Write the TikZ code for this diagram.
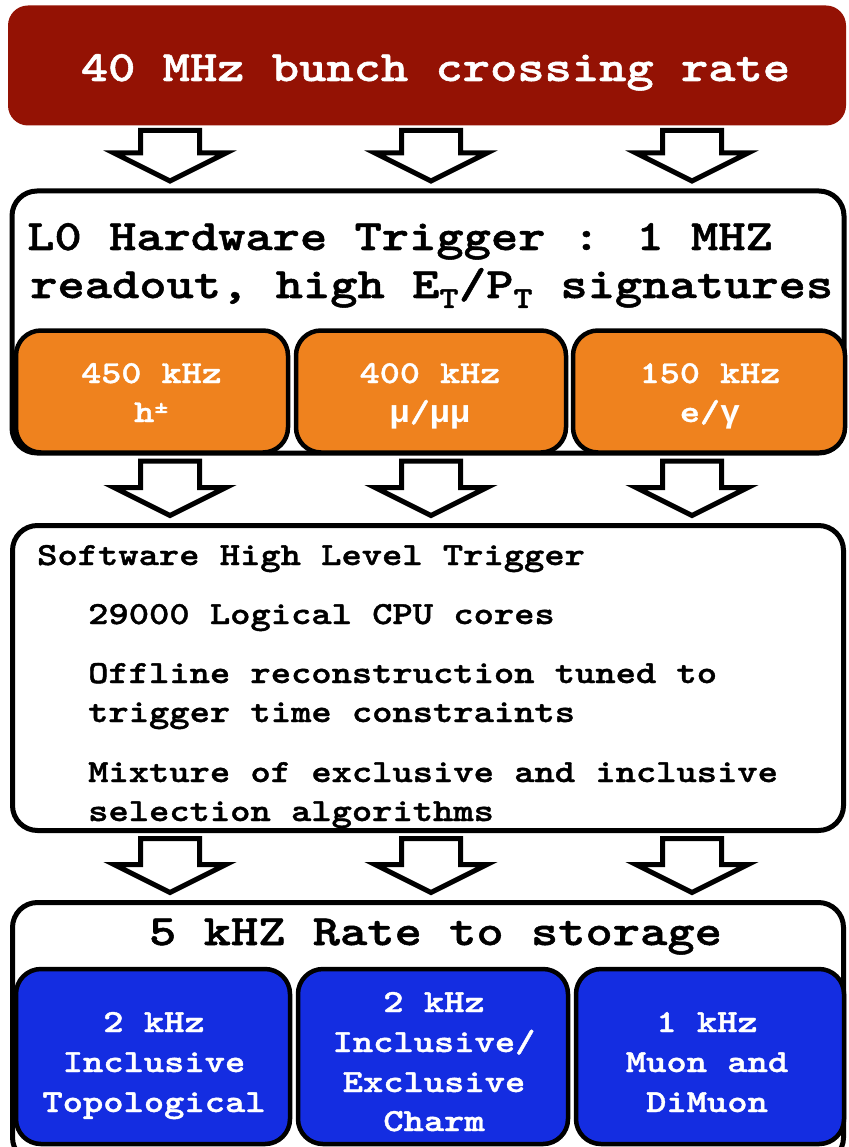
\documentclass[tikz,border=0pt]{standalone}
\usepackage{fontspec}
\usetikzlibrary{calc}
\newfontfamily\cour{lmmonolt10-bold.otf}[FakeStretch=1.2,FakeBold=1.2]
\newfontfamily\gmono{Liberation Mono}[FakeStretch=1.05]
\newcommand\bigfont{\cour\fontsize{43.3pt}{50pt}\selectfont}
\newcommand\midfont{\cour\fontsize{32.2pt}{40pt}\selectfont}
\newcommand\orfont{\cour\fontsize{31.9pt}{40pt}\selectfont}
\newcommand\gk[1]{{\gmono\bfseries\fontsize{32pt}{40pt}\selectfont #1}}
\definecolor{topred}{RGB}{148,18,4}
\definecolor{lzorange}{RGB}{239,130,30}
\definecolor{storeblue}{RGB}{20,45,225}
\tikzset{
  redbox/.style={fill=topred, draw=none, rounded corners=20pt, inner sep=0pt, outer sep=0pt},
  whitebox/.style={draw=black, fill=white, line width=5pt, rounded corners=25pt, inner sep=0pt, outer sep=0pt},
  orangebox/.style={draw=black, fill=lzorange, line width=4.5pt, rounded corners=25pt, inner sep=0pt, outer sep=0pt},
  bluebox/.style={draw=black, fill=storeblue, line width=4.5pt, rounded corners=25pt, inner sep=0pt, outer sep=0pt},
  bigtxt/.style={font=\bigfont, inner sep=0pt, text=black},
  midtxt/.style={font=\midfont, inner sep=0pt, text=black},
  wbig/.style={font=\bigfont, inner sep=0pt, text=white, anchor=base},
  wmid/.style={font=\midfont, inner sep=0pt, text=white, anchor=base},
  wor/.style={font=\orfont, inner sep=0pt, text=white, anchor=base},
  blockarr/.style={draw=black, fill=white, line width=5pt, line join=miter}
}
% #1 x position (px), #2 source node, #3 target node, #4 gap below source
\newcommand\blockarrow[4]{%
  \draw[blockarr] let \p1=(#2.south), \p2=(#3.north) in
    (#1*1pt-29.5pt,\y1-#4pt) -- (#1*1pt+29.5pt,\y1-#4pt) -- (#1*1pt+29.5pt,\y2+38pt)
    -- (#1*1pt+56pt,\y2+38pt) -- (#1*1pt,\y2+10pt) -- (#1*1pt-56pt,\y2+38pt)
    -- (#1*1pt-29.5pt,\y2+38pt) -- cycle;}
\begin{document}
\begin{tikzpicture}[x=1pt,y=-1pt]
\useasboundingbox (0,0) rectangle (848,1147);
\clip (0,0) rectangle (848,1147);
\fill[white] (0,0) rectangle (848,1147);

% top box
\node[redbox, minimum width=838pt, minimum height=120pt] (top) at (427,65.5) {};
\node[wbig] (toptxt) at (435.5,81) {40 MHz bunch crossing rate};

% L0 box
\node[whitebox, minimum width=832pt, minimum height=262pt] (l0) at (428,322) {};
\node[bigtxt, anchor=base west] (l0a) at (27,250) {L0 Hardware Trigger : 1 MHZ};
\node[bigtxt, anchor=base west] (l0b) at (30,298) {readout, high E\textsubscript{T}/P\textsubscript{T} signatures};

\node[orangebox, minimum width=272pt, minimum height=122pt] (o1) at (152,391.5) {};
\node[orangebox, minimum width=270pt, minimum height=122pt] (o2) at (431,391.5) {};
\node[orangebox, minimum width=272pt, minimum height=122pt] (o3) at (709,391.5) {};
\node[wor] (o1a) at (151.5,383) {450 kHz};
\node[wor] (o1b) at (151.5,422) {h\textsuperscript{±}};
\node[wor] (o2a) at (430,383) {400 kHz};
\node[wor] (o2b) at (430,422) {\gk{μ}/\gk{μμ}};
\node[wor] (o3a) at (710,383) {150 kHz};
\node[wor] (o3b) at (710,422) {e/\gk{γ}};

% HLT box
\node[whitebox, minimum width=831pt, minimum height=305pt] (hlt) at (428,678) {};
\node[midtxt, anchor=base west] (h0) at (37,565) {Software High Level Trigger};
\node[midtxt, anchor=base west] (h1) at (88,624) {29000 Logical CPU cores};
\node[midtxt, anchor=base west] (h2) at (88,683) {Offline reconstruction tuned to};
\node[midtxt, anchor=base west] (h3) at (88,722) {trigger time constraints};
\node[midtxt, anchor=base west] (h4) at (88,782) {Mixture of exclusive and inclusive};
\node[midtxt, anchor=base west] (h5) at (88,821) {selection algorithms};

% storage box
\node[whitebox, minimum width=831pt, minimum height=260pt] (store) at (428,1032.5) {};
\node[bigtxt, anchor=base] (storetxt) at (435.5,945) {5 kHZ Rate to storage};

\node[bluebox, minimum width=274pt, minimum height=175pt] (b1) at (153,1056.5) {};
\node[bluebox, minimum width=270pt, minimum height=175pt] (b2) at (433,1056.5) {};
\node[bluebox, minimum width=268pt, minimum height=175pt] (b3) at (710,1056.5) {};
\node[wmid] (b1a) at (154,1032) {2 kHz};
\node[wmid] (b1b) at (154,1072) {Inclusive};
\node[wmid] (b1c) at (154,1112) {Topological};
\node[wmid] (b2a) at (434,1012) {2 kHz};
\node[wmid] (b2b) at (434,1052) {Inclusive/};
\node[wmid] (b2c) at (434,1092) {Exclusive};
\node[wmid] (b2d) at (434,1131) {Charm};
\node[wmid] (b3a) at (707,1032) {1 kHz};
\node[wmid] (b3b) at (707,1072) {Muon and};
\node[wmid] (b3c) at (707,1112) {DiMuon};

% block arrows
\blockarrow{170}{top}{l0}{5}
\blockarrow{431}{top}{l0}{5}
\blockarrow{692}{top}{l0}{5}
\blockarrow{170}{l0}{hlt}{8}
\blockarrow{431}{l0}{hlt}{8}
\blockarrow{692}{l0}{hlt}{8}
\blockarrow{170}{hlt}{store}{8}
\blockarrow{431}{hlt}{store}{8}
\blockarrow{692}{hlt}{store}{8}
\end{tikzpicture}
\end{document}
